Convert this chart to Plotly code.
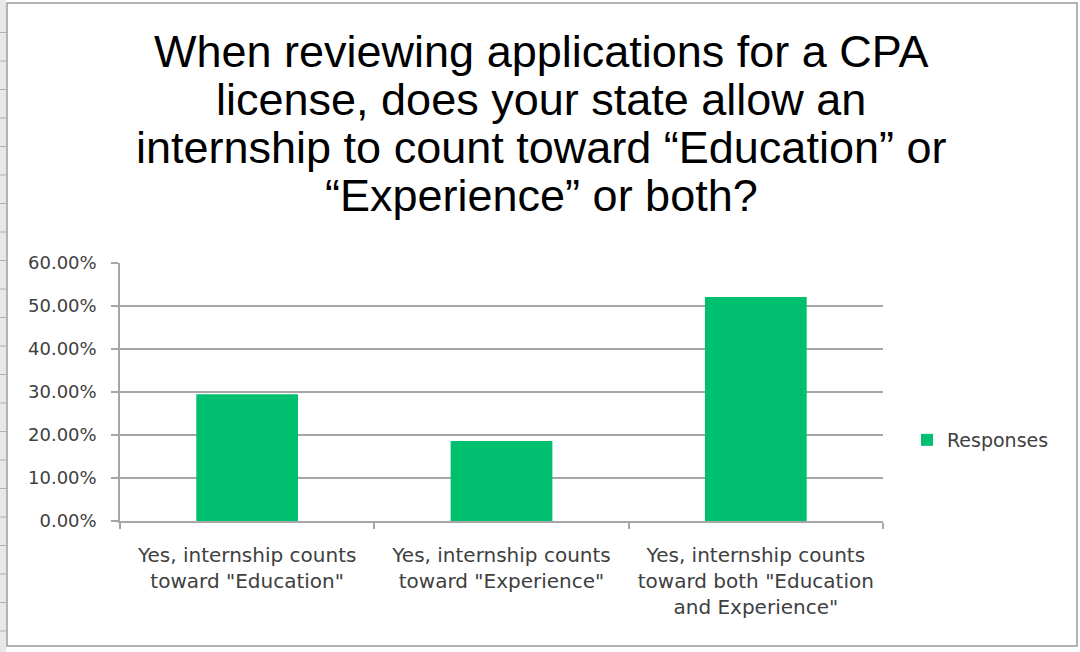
import plotly.graph_objects as go

categories = [
    'Yes, internship counts<br>toward "Education"',
    'Yes, internship counts<br>toward "Experience"',
    'Yes, internship counts<br>toward both "Education<br>and Experience"',
]
responses = [0.295, 0.186, 0.521]
series_name = "Responses"
title_lines = [
    "When reviewing applications for a CPA",
    "license, does your state allow an",
    "internship to count toward \u201cEducation\u201d or",
    "\u201cExperience\u201d or both?",
]
y_ticks = [0, 0.1, 0.2, 0.3, 0.4, 0.5, 0.6]

W, H = 1080, 652
L, R, T, B = 120, 883, 263, 521


def px(x):
    return (x - L) / (R - L)


def py(y):
    return (B - y) / (B - T)


fig = go.Figure()
fig.add_trace(go.Bar(
    x=categories, y=responses, name=series_name,
    marker=dict(color="#00BF6F", line=dict(width=0)),
    width=0.4, showlegend=True,
))

grey = "#a6a6a6"
txt = "#404040"
fig.update_layout(
    width=W, height=H,
    margin=dict(l=L, r=W - R, t=T, b=H - B, pad=0),
    paper_bgcolor="white", plot_bgcolor="white",
    showlegend=True,
    legend=dict(x=px(907), y=py(440), xanchor="left", yanchor="middle",
                font=dict(family="DejaVu Sans", size=19, color=txt),
                bgcolor="rgba(0,0,0,0)", itemwidth=30),
    xaxis=dict(
        showline=True, linecolor=grey, linewidth=1.5,
        ticks="outside", ticklen=6, tickcolor=grey, tickwidth=1.5,
        tickson="boundaries", showgrid=False,
        tickfont=dict(family="DejaVu Sans", size=20, color=txt),
        ticklabelstandoff=15,
    ),
    yaxis=dict(
        range=[0, 0.6], tickvals=y_ticks, tickformat=".2%",
        showline=True, linecolor=grey, linewidth=1.5,
        ticks="outside", ticklen=7, tickcolor=grey, tickwidth=1.5,
        showgrid=True, gridcolor=grey, gridwidth=1.5, zeroline=False,
        tickfont=dict(family="DejaVu Sans", size=18, color=txt),
        ticklabelstandoff=11,
    ),
    font=dict(family="DejaVu Sans", color=txt),
)

# Title lines
for i, line in enumerate(title_lines):
    fig.add_annotation(
        text=line, xref="paper", yref="paper",
        x=px(541), y=py(51 + 48 * i), xanchor="center", yanchor="middle",
        showarrow=False,
        font=dict(family="Liberation Sans", size=45, color="#000000"),
    )

# Spreadsheet strip and chart border
fig.add_shape(type="rect", xref="paper", yref="paper",
              x0=px(0), x1=px(6), y0=py(H), y1=py(0),
              fillcolor="#e8e8e8", line=dict(width=0), layer="below")
for k in range(22):
    yy = 4 + 28.5 * (k + 1)
    fig.add_shape(type="line", xref="paper", yref="paper",
                  x0=px(0), x1=px(6), y0=py(yy), y1=py(yy),
                  line=dict(color="#b0b0b0", width=1), layer="below")
fig.add_shape(type="rect", xref="paper", yref="paper",
              x0=px(7), x1=px(1077), y0=py(646), y1=py(3),
              fillcolor="rgba(0,0,0,0)", line=dict(color="#9a9a9a", width=1.5))

fig.write_html("out.html")
